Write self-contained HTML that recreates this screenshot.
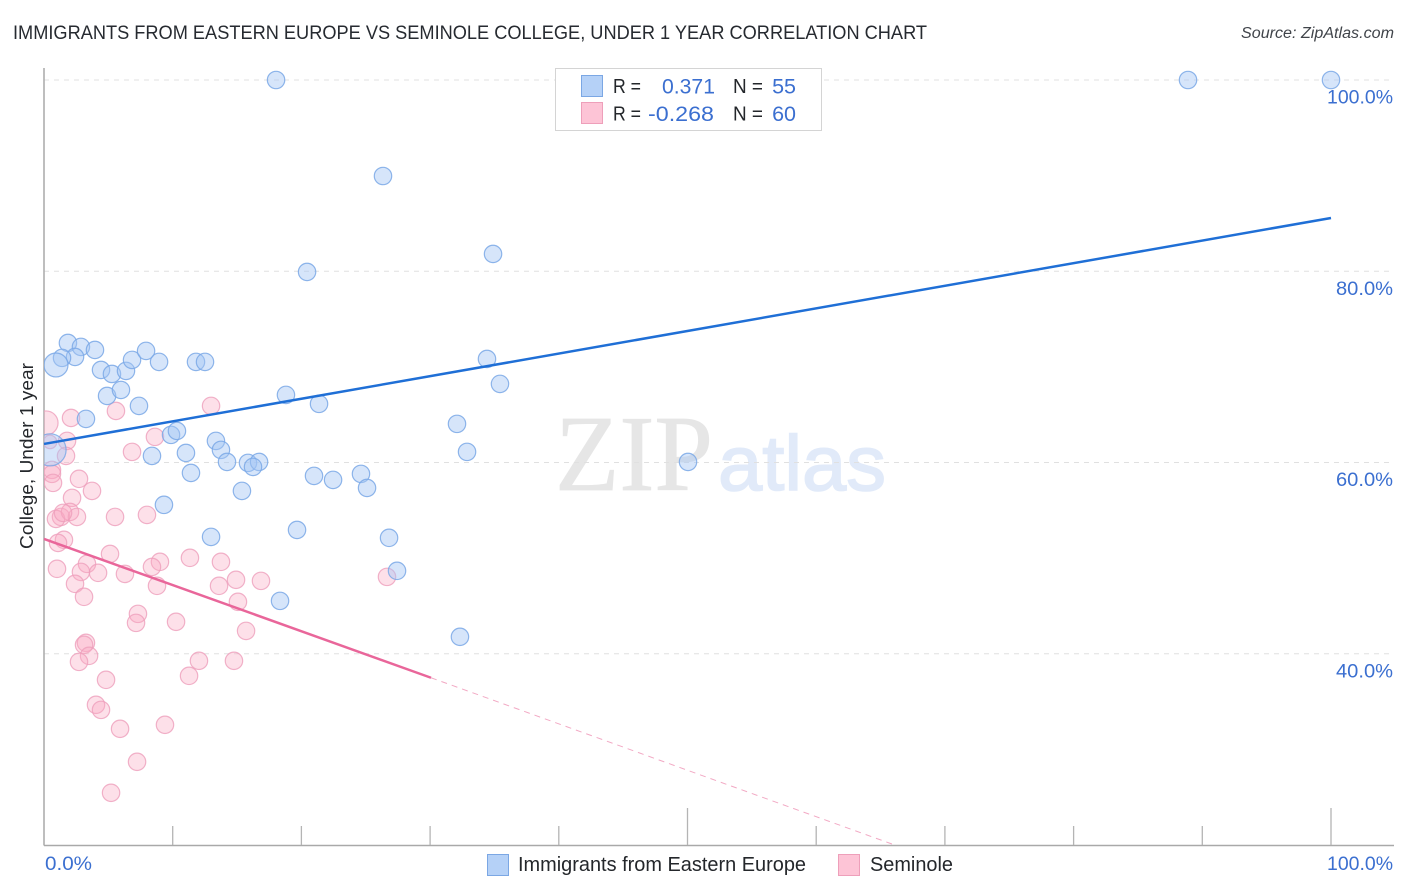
<!DOCTYPE html>
<html lang="en">
<head>
<meta charset="utf-8">
<title>Immigrants from Eastern Europe vs Seminole College, Under 1 Year Correlation Chart</title>
<style>
html,body{margin:0;padding:0;background:#fff;}
svg{display:block;}
text{font-family:"Liberation Sans",sans-serif;}
</style>
</head>
<body>
<svg id="chart" xmlns="http://www.w3.org/2000/svg" width="1406" height="892" viewBox="0 0 1406 892">
  <defs>
    <clipPath id="plot-clip"><rect x="44" y="0" width="1362" height="845"/></clipPath>
  </defs>
  <text x="555" y="490" font-size="108" textLength="158" lengthAdjust="spacingAndGlyphs" fill="#e6e6e6" stroke="#e6e6e6" stroke-width="0.8" style="font-family:'Liberation Serif',serif">ZIP</text>
  <text x="718" y="490" font-size="78" textLength="168" lengthAdjust="spacingAndGlyphs" fill="#e1eaf9" stroke="#e1eaf9" stroke-width="1.6">atlas</text>
  <g id="grid"></g>
  <g id="axes"></g>
  <g id="pink-points" clip-path="url(#plot-clip)"></g>
  <g id="blue-points" clip-path="url(#plot-clip)"></g>
  <g id="trends"></g>
  <g id="labels"></g>

  <text x="13" y="39" font-size="19.5" fill="#262a30" textLength="914" lengthAdjust="spacingAndGlyphs">IMMIGRANTS FROM EASTERN EUROPE VS SEMINOLE COLLEGE, UNDER 1 YEAR CORRELATION CHART</text>
  <text x="1241" y="38" font-size="15.5" font-style="italic" fill="#40444a" textLength="153" lengthAdjust="spacingAndGlyphs">Source: ZipAtlas.com</text>
  <text transform="translate(33,456) rotate(-90)" font-size="18.5" fill="#24272b" text-anchor="middle" textLength="186" lengthAdjust="spacingAndGlyphs">College, Under 1 year</text>

  <g>
    <rect x="555.5" y="68.5" width="266" height="62" fill="#fff" stroke="#d4d4d4" stroke-width="1"/>
    <rect x="581.5" y="75.5" width="21" height="21" fill="#b5d1f7" stroke="#7ba7e4" stroke-width="1"/>
    <rect x="581.5" y="102.5" width="21" height="21" fill="#fdc4d6" stroke="#ee9fba" stroke-width="1"/>
    <text x="613" y="93" font-size="20" fill="#24272b" textLength="28" lengthAdjust="spacingAndGlyphs">R =</text>
    <text x="662" y="93.5" font-size="21.5" fill="#3b6fd0" textLength="53" lengthAdjust="spacingAndGlyphs">0.371</text>
    <text x="733" y="93" font-size="20" fill="#24272b" textLength="30" lengthAdjust="spacingAndGlyphs">N =</text>
    <text x="796" y="93.5" font-size="21.5" fill="#3b6fd0" text-anchor="end">55</text>
    <text x="613" y="120.5" font-size="20" fill="#24272b" textLength="28" lengthAdjust="spacingAndGlyphs">R =</text>
    <text x="648" y="121" font-size="21.5" fill="#3b6fd0" textLength="66" lengthAdjust="spacingAndGlyphs">-0.268</text>
    <text x="733" y="120.5" font-size="20" fill="#24272b" textLength="30" lengthAdjust="spacingAndGlyphs">N =</text>
    <text x="796" y="121" font-size="21.5" fill="#3b6fd0" text-anchor="end">60</text>
  </g>

  <g>
    <rect x="487.5" y="854.5" width="21" height="21" fill="#b5d1f7" stroke="#7ba7e4" stroke-width="1"/>
    <text x="518" y="871" font-size="20" fill="#24272b" textLength="288" lengthAdjust="spacingAndGlyphs">Immigrants from Eastern Europe</text>
    <rect x="838.5" y="854.5" width="21" height="21" fill="#fdc4d6" stroke="#ee9fba" stroke-width="1"/>
    <text x="870" y="871" font-size="20" fill="#24272b" textLength="83" lengthAdjust="spacingAndGlyphs">Seminole</text>
  </g>
</svg>
<script>
var xTickValues = [0,10,20,30,40,50,60,70,80,90,100];
var xMajorTicks = [0,50,100];
var xTickLabels = ["0.0%","100.0%"];
var xLabelValues = [0,100];
var yTickValues = [100,80,60,40];
var yTickLabels = ["100.0%","80.0%","60.0%","40.0%"];

var blueX = [18.03,88.89,100,26.34,20.44,34.89,1.86,2.87,3.96,2.41,1.40,0.93,4.43,5.28,6.37,6.84,7.93,8.94,11.81,12.51,4.90,5.98,7.38,3.26,18.80,21.37,34.42,35.43,32.09,32.87,50.04,9.87,10.33,13.36,13.75,14.22,11.03,8.39,11.42,15.85,16.71,16.24,15.38,9.32,20.98,22.46,24.63,25.10,19.66,12.98,26.81,27.43,18.34,32.32,0.47];
var blueY = [100,100,100,89.96,79.93,81.81,72.50,72.09,71.77,71.04,70.94,70.20,69.68,69.26,69.58,70.73,71.67,70.52,70.52,70.52,66.96,67.59,65.92,64.56,67.07,66.13,70.83,68.22,64.04,61.11,60.06,62.89,63.30,62.26,61.32,60.06,61.00,60.69,58.91,59.96,60.06,59.54,57.03,55.57,58.60,58.18,58.81,57.34,52.95,52.22,52.12,48.67,45.53,41.77,61.32];
var blueWeight = [1,1,1,1,1,1,1,1,1,1,1,1.9,1,1,1,1,1,1,1,1,1,1,1,1,1,1,1,1,1,1,1,1,1,1,1,1,1,1,1,1,1,1,1,1,1,1,1,1,1,1,1,1,1,1,3.4];

var pinkX = [0.16,2.10,5.59,12.98,8.62,1.79,0.47,6.84,1.71,0.62,0.62,0.70,2.72,3.73,2.18,1.32,0.93,2.02,2.56,5.52,8.00,1.55,1.09,11.34,9.01,8.39,5.13,13.75,1.01,3.34,2.87,4.20,6.29,2.41,3.11,8.78,13.60,14.92,16.86,15.07,7.30,7.15,10.26,15.70,3.26,3.11,3.50,2.72,12.04,14.76,11.27,4.82,4.04,4.43,9.40,5.91,7.23,5.21,26.65,1.48];
var pinkY = [64.14,64.66,65.39,65.92,62.68,62.26,62.15,61.11,60.69,59.23,58.81,57.87,58.29,57.03,56.30,54.31,54.10,54.83,54.31,54.31,54.52,51.91,51.59,50.03,49.61,49.08,50.44,49.61,48.88,49.40,48.56,48.46,48.35,47.31,45.95,47.10,47.10,47.73,47.62,45.43,44.17,43.23,43.34,42.39,41.14,40.93,39.78,39.15,39.26,39.26,37.69,37.27,34.66,34.13,32.57,32.15,28.70,25.46,48.04,54.73];
var pinkWeight = [1.9,1,1,1,1,1,0.6,1,1,1,1,1,1,1,1,1,1,1,1,1,1,1,1,1,1,1,1,1,1,1,1,1,1,1,1,1,1,1,1,1,1,1,1,1,1,1,1,1,1,1,1,1,1,1,1,1,1,1,1,1];

var blueTrendX = [0,100];
var blueTrendY = [61.94,85.57];
var pinkTrendX = [0,30.07];
var pinkTrendY = [52.01,37.49];
var pinkDashX = [30.07,66.1];
var pinkDashY = [37.49,20.0];

var NS = "http://www.w3.org/2000/svg";
function sx(v){ return 44 + v * 12.87; }
function sy(v){ return 845 - (v - 20) * 9.5625; }
function radius(w){ return 8.7 * Math.sqrt(w); }
function make(tag, parent, attrs){
  var el = document.createElementNS(NS, tag);
  for (var k in attrs) el.setAttribute(k, attrs[k]);
  document.getElementById(parent).appendChild(el);
  return el;
}

yTickValues.forEach(function(v, i){
  var g = make("line", "grid", {x1:44, x2:1394, y1:sy(v), y2:sy(v), stroke:"#e0e0e0", "stroke-width":1, "stroke-dasharray":"5 5"});
  
  
  var t = make("text", "labels", {x:1393, y:sy(v) + 23.5, "font-size":19.5, fill:"#3b6fd0", "text-anchor":"end", textLength:(v === 100 ? 66 : 57), lengthAdjust:"spacingAndGlyphs"});
  t.textContent = yTickLabels[i];
  
  
});

var yAxisLine = make("line", "axes", {x1:44, x2:44, y1:68, y2:845.5, stroke:"#a9a9a9", "stroke-width":1.5});


var xAxisLine = make("line", "axes", {x1:44, x2:1394, y1:845.5, y2:845.5, stroke:"#a9a9a9", "stroke-width":1.5});



xTickValues.forEach(function(v){
  if (v === 0) return;
  var top = xMajorTicks.indexOf(v) >= 0 ? 808 : 826;
  var tk = make("line", "axes", {x1:sx(v), x2:sx(v), y1:top, y2:845, stroke:"#b4b4b4", "stroke-width":1.3});
  
  
});

xLabelValues.forEach(function(v, i){
  var anchor = v === 0 ? "start" : "end";
  var px = v === 0 ? sx(v) + 1 : 1393;
  var t = make("text", "labels", {x:px, y:870, "font-size":19.5, fill:"#3b6fd0", "text-anchor":anchor, textLength:(v === 0 ? 47 : 66), lengthAdjust:"spacingAndGlyphs"});
  t.textContent = xTickLabels[i];
  
  
});

pinkX.forEach(function(v, i){
  var c = make("circle", "pink-points", {cx:sx(v), cy:sy(pinkY[i]), r:radius(pinkWeight[i]), fill:"#f9a8c3", "fill-opacity":0.36, stroke:"#ee9fbb", "stroke-opacity":0.8, "stroke-width":1.2});
  
  
});
blueX.forEach(function(v, i){
  var c = make("circle", "blue-points", {cx:sx(v), cy:sy(blueY[i]), r:radius(blueWeight[i]), fill:"#a4c6f3", "fill-opacity":0.45, stroke:"#7aa8e6", "stroke-opacity":0.85, "stroke-width":1.2});
  
  
});

var blueLine = make("line", "trends", {x1:sx(blueTrendX[0]), y1:sy(blueTrendY[0]), x2:sx(blueTrendX[1]), y2:sy(blueTrendY[1]), stroke:"#1f6fd6", "stroke-width":2.5});


var pinkLine = make("line", "trends", {x1:sx(pinkTrendX[0]), y1:sy(pinkTrendY[0]), x2:sx(pinkTrendX[1]), y2:sy(pinkTrendY[1]), stroke:"#e9669a", "stroke-width":2.5});


var pinkDash = make("line", "trends", {x1:sx(pinkDashX[0]), y1:sy(pinkDashY[0]), x2:sx(pinkDashX[1]), y2:sy(pinkDashY[1]), stroke:"#f2a9c4", "stroke-width":1, "stroke-dasharray":"6 5"});


</script>
</body>
</html>
